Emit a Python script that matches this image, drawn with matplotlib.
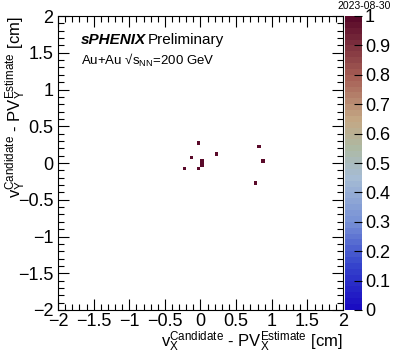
import numpy as np
import matplotlib
matplotlib.use('Agg')
import matplotlib.pyplot as plt
from matplotlib.colors import LinearSegmentedColormap

# vertex candidate offsets (cm)
dx = [-0.02, 0.22, -0.14, 0.02, 0.02, -0.22, -0.02, 0.82, 0.86, 0.77]
dy = [0.26, 0.14, 0.06, 0.02, -0.02, -0.06, -0.06, 0.22, 0.02, -0.26]
nbins = 80
axis_range = [-2, 2]
cbar_ticks = [0, 0.1, 0.2, 0.3, 0.4, 0.5, 0.6, 0.7, 0.8, 0.9, 1]

plt.rcParams['font.family'] = ['Liberation Sans', 'DejaVu Sans']
plt.rcParams['mathtext.fontset'] = 'custom'
plt.rcParams['mathtext.rm'] = 'Liberation Sans'
plt.rcParams['mathtext.it'] = 'Liberation Sans:italic'
plt.rcParams['mathtext.bf'] = 'Liberation Sans:bold'

pal = LinearSegmentedColormap.from_list('pal', [
    (0.0, '#1a0cc2'), (0.15, '#3646cc'), (0.3, '#7892d6'), (0.45, '#a6bcd4'),
    (0.55, '#adb9a3'), (0.65, '#c4a784'), (0.8, '#a65e55'), (1.0, '#5a0a2a')], N=50)

fig = plt.figure(figsize=(3.93, 3.56), dpi=100)
ax = fig.add_axes([58/393, 46/356, 285/393, 294/356])
cax = fig.add_axes([344.5/393, 46/356, 17.5/393, 294/356])

h = ax.hist2d(dx, dy, bins=nbins, range=[axis_range, axis_range],
              cmap=pal, vmin=0, vmax=1, cmin=0.5)

ticklabels = ['\u22122', '\u22121.5', '\u22121', '\u22120.5', '0', '0.5', '1', '1.5', '2']
ax.set_xlim(-2, 2)
ax.set_ylim(-2, 2)
ax.set_xticks(np.arange(-2, 2.01, 0.5))
ax.set_yticks(np.arange(-2, 2.01, 0.5))
ax.set_xticklabels(ticklabels)
ax.set_yticklabels(ticklabels)
ax.set_xticks(np.arange(-2, 2.01, 0.1), minor=True)
ax.set_yticks(np.arange(-2, 2.01, 0.1), minor=True)
ax.tick_params(which='both', direction='in', top=True, right=True, labelsize=13, width=0.8)
ax.tick_params(which='major', length=8)
ax.tick_params(which='minor', length=4)
ax.tick_params(axis='x', pad=2)
for s in ax.spines.values():
    s.set_linewidth(0.8)

ax.set_xlabel(r'$\mathregular{v_{X}^{Candidate}}$ - $\mathregular{PV_{X}^{Estimate}}$ [cm]',
              fontsize=12, loc='right', labelpad=0)
ax.set_ylabel(r'$\mathregular{v_{Y}^{Candidate}}$ - $\mathregular{PV_{Y}^{Estimate}}$ [cm]',
              fontsize=12, loc='top')
ax.yaxis.set_label_coords(-0.105, 1.0)

ax.text(0.08, 0.905, 'sPHENIX', transform=ax.transAxes, fontsize=11,
        fontweight='bold', fontstyle='italic')
ax.text(0.315, 0.905, 'Preliminary', transform=ax.transAxes, fontsize=11)
ax.text(0.08, 0.835, 'Au+Au \u221a' + r'$\mathregular{s_{NN}}$=200 GeV',
        transform=ax.transAxes, fontsize=9.5)

cb = fig.colorbar(h[3], cax=cax, ticks=cbar_ticks)
cb.ax.set_yticklabels(['0', '0.1', '0.2', '0.3', '0.4', '0.5', '0.6', '0.7', '0.8', '0.9', '1'])
cb.ax.tick_params(direction='in', length=6, labelsize=13, width=0.8, pad=2)
cb.outline.set_visible(False)

fig.text(0.995, 0.998, '2023-08-30', ha='right', va='top', fontsize=7.5)

fig.savefig('out.png', dpi=100)
